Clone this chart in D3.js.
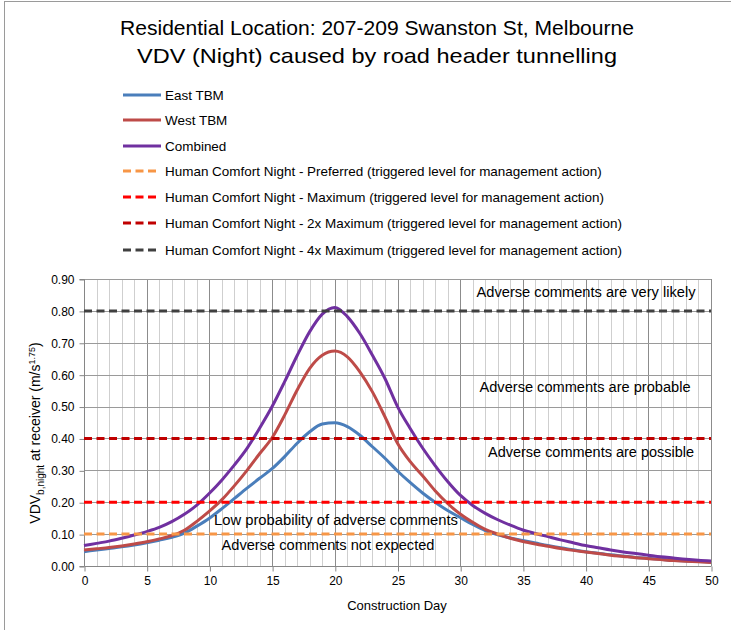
<!DOCTYPE html>
<html><head><meta charset="utf-8">
<script src="https://cdn.jsdelivr.net/npm/d3@7"></script>
<style>
body{margin:0;background:#fff}
svg{display:block}
text{font-family:"Liberation Sans Narrow","Liberation Sans",Arial,sans-serif;fill:#000}
</style>
</head><body>
<svg id="chart" width="731" height="630"></svg>
<script>
// ---------- DATA ----------
const titleLines = ["Residential Location: 207-209 Swanston St, Melbourne",
                    "VDV (Night) caused by road header tunnelling"];
const days = [0,1,2,3,4,5,6,7,8,9,10,11,12,13,14,15,16,17,18,19,20,21,22,23,24,25,
              26,27,28,29,30,31,32,33,34,35,36,37,38,39,40,41,42,43,44,45,46,47,48,49,50];
const eastTBM = [0.045,0.050,0.055,0.060,0.066,0.073,0.081,0.090,0.103,0.125,0.150,0.180,0.212,0.244,0.275,0.305,
                 0.343,0.385,0.421,0.445,0.449,0.437,0.410,0.374,0.338,0.298,0.262,0.229,0.200,0.174,0.152,
                 0.130,0.111,0.098,0.088,0.080,0.072,0.064,0.057,0.051,0.045,0.040,0.035,0.031,0.027,0.024,
                 0.021,0.018,0.016,0.014,0.012];
const westTBM = [0.050,0.054,0.058,0.063,0.069,0.076,0.085,0.095,0.112,0.140,0.172,0.208,0.252,0.300,0.352,0.402,
                 0.473,0.552,0.620,0.661,0.674,0.656,0.609,0.546,0.468,0.385,0.328,0.283,0.236,0.196,0.163,
                 0.137,0.115,0.100,0.087,0.077,0.069,0.062,0.055,0.049,0.044,0.039,0.034,0.030,0.026,0.023,
                 0.020,0.017,0.015,0.013,0.011];
const combined = [0.064,0.071,0.078,0.087,0.097,0.108,0.121,0.139,0.162,0.191,0.228,0.270,0.317,0.369,0.432,0.500,
                  0.578,0.660,0.735,0.790,0.811,0.782,0.729,0.661,0.588,0.500,0.432,0.370,0.315,0.265,0.222,
                  0.190,0.165,0.145,0.128,0.113,0.102,0.092,0.082,0.073,0.064,0.057,0.050,0.044,0.039,0.034,
                  0.029,0.025,0.021,0.018,0.016];
const seriesNames = ["East TBM","West TBM","Combined"];
const limitNames = ["Human Comfort Night - Preferred (triggered level for management action)",
                    "Human Comfort Night - Maximum (triggered level for management action)",
                    "Human Comfort Night - 2x Maximum (triggered level for management action)",
                    "Human Comfort Night - 4x Maximum (triggered level for management action)"];
const limitValues = [0.1, 0.2, 0.4, 0.8];
const zoneLabels = ["Adverse comments are very likely","Adverse comments are probable",
                    "Adverse comments are possible","Low probability of adverse comments",
                    "Adverse comments not expected"];
const yTicks = [0,0.1,0.2,0.3,0.4,0.5,0.6,0.7,0.8,0.9];
const xTicks = [0,5,10,15,20,25,30,35,40,45,50];
const xLabel = "Construction Day";

// ---------- STYLE ----------
const seriesColors = ["#4A7EBB","#BE4B48","#7030A0"];
const limitColors = ["#F79646","#FF0000","#C00000","#404040"];

const svg = d3.select("#chart");
const L = 84, R = 711, T = 279, B = 566;
const x = d3.scaleLinear().domain([0,50]).range([L,R]);
const y = d3.scaleLinear().domain([0,0.9]).range([B,T]);

function fit(sel, w){
  const n = sel.node();
  const cur = n.getComputedTextLength();
  if (Math.abs(cur - w) > 0.5) sel.attr("textLength", w).attr("lengthAdjust","spacingAndGlyphs");
  return sel;
}

// outer border
svg.append("rect").attr("x",4.5).attr("y",1.5).attr("width",800).attr("height",800)
  .attr("fill","none").attr("stroke","#9a9a9a").attr("stroke-width",1);

// title
titleLines.forEach((t,i)=>{
  const s = svg.append("text").attr("x",377).attr("y",[35,63][i]).attr("text-anchor","middle")
    .style("font-size","21px").text(t);
  fit(s, [514,480][i]);
});

// grid
const g = svg.append("g");
g.selectAll(".minor").data(d3.range(1,50).filter(d=>d%5!==0)).enter().append("line")
  .attr("x1",d=>Math.round(x(d))+0.5).attr("x2",d=>Math.round(x(d))+0.5).attr("y1",T).attr("y2",B)
  .attr("stroke","#cfcfcf").attr("stroke-width",1);
g.selectAll(".major").data(xTicks.slice(1)).enter().append("line")
  .attr("x1",d=>Math.round(x(d))+0.5).attr("x2",d=>Math.round(x(d))+0.5).attr("y1",T).attr("y2",B)
  .attr("stroke","#8c8c8c").attr("stroke-width",1);
g.selectAll(".hgrid").data(yTicks.slice(1)).enter().append("line")
  .attr("x1",L).attr("x2",R).attr("y1",d=>Math.round(y(d))+0.5).attr("y2",d=>Math.round(y(d))+0.5)
  .attr("stroke","#9a9a9a").attr("stroke-width",1);

// axes
const yAxis = d3.axisLeft(y).tickValues(yTicks).tickFormat(d3.format(".2f")).tickSize(5).tickPadding(5);
const ya = svg.append("g").attr("transform",`translate(${L+0.5},0.5)`).call(yAxis);
const xAxis = d3.axisBottom(x).tickValues(xTicks).tickFormat(d3.format("d")).tickSize(5).tickPadding(5);
const xa = svg.append("g").attr("transform",`translate(0.5,${B+0.5})`).call(xAxis);
[ya,xa].forEach(a=>{
  a.select(".domain").attr("stroke","#868686");
  a.selectAll(".tick line").attr("stroke","#868686");
  a.selectAll("text").style("font-size","12px").attr("fill","#000")
    .style("font-family","'Liberation Sans Narrow','Liberation Sans',Arial,sans-serif");
});
ya.select(".domain").attr("d",`M-5,${T}H0V${B}H-5`);
xa.select(".domain").attr("d",`M${L},0H${R}`);

// curves
const seriesData = [eastTBM, westTBM, combined];
const line = d3.line().x((d,i)=>x(days[i])).y(d=>y(d)).curve(d3.curveMonotoneX);
seriesData.forEach((s,i)=>{
  svg.append("path").attr("d",line(s)).attr("fill","none")
    .attr("stroke",seriesColors[i]).attr("stroke-width",3).attr("stroke-linejoin","round");
});

// limits
limitValues.forEach((v,i)=>{
  svg.append("line").attr("x1",L).attr("x2",R).attr("y1",y(v)).attr("y2",y(v))
    .attr("stroke",limitColors[i]).attr("stroke-width",3).attr("stroke-dasharray","8,4.5");
});

// zone labels
const zonePos = [[586,292],[585,387],[591,452],[336,520],[328,545]];
zoneLabels.forEach((t,i)=>{
  const s = svg.append("text").attr("x",zonePos[i][0]).attr("y",zonePos[i][1]).attr("dy","0.35em")
    .attr("text-anchor","middle").style("font-size","14px").text(t);
});
// fit zone label widths
const zoneW = [219,211,206,244,213];
svg.selectAll("text").filter(function(){return zoneLabels.includes(this.textContent);})
  .each(function(){ fit(d3.select(this), zoneW[zoneLabels.indexOf(this.textContent)]); });

// legend
const legRows = [95,120,146,171,197,223,250];
const legNames = seriesNames.concat(limitNames);
const legColors = seriesColors.concat(limitColors);
const legTexts = [];
legNames.forEach((n,i)=>{
  const yy = legRows[i];
  svg.append("line").attr("x1",123).attr("x2",i<3?161:157).attr("y1",yy).attr("y2",yy)
    .attr("stroke",legColors[i]).attr("stroke-width",3)
    .attr("stroke-dasharray",i<3?null:"8,4.5");
  legTexts.push(svg.append("text").attr("x",165).attr("y",yy).attr("dy","0.35em")
    .style("font-size","13px").text(n));
});
const longest = legTexts[6].node().getComputedTextLength();
const k = 457/longest;
legTexts.forEach(s=>fit(s, s.node().getComputedTextLength()*k));

// axis titles
const xt = svg.append("text").attr("x",397).attr("y",610).attr("text-anchor","middle")
  .style("font-size","13px").text(xLabel);
fit(xt, 100);
const yl = svg.append("text").attr("transform","translate(40,433) rotate(-90)")
  .attr("text-anchor","middle").style("font-size","14px");
yl.append("tspan").text("VDV");
yl.append("tspan").attr("dy",4).style("font-size","10px").text("b,night");
yl.append("tspan").attr("dy",-4).text(" at receiver (m/s");
yl.append("tspan").attr("dy",-5).style("font-size","9px").text("1.75");
yl.append("tspan").attr("dy",5).text(")");
</script>
</body></html>
